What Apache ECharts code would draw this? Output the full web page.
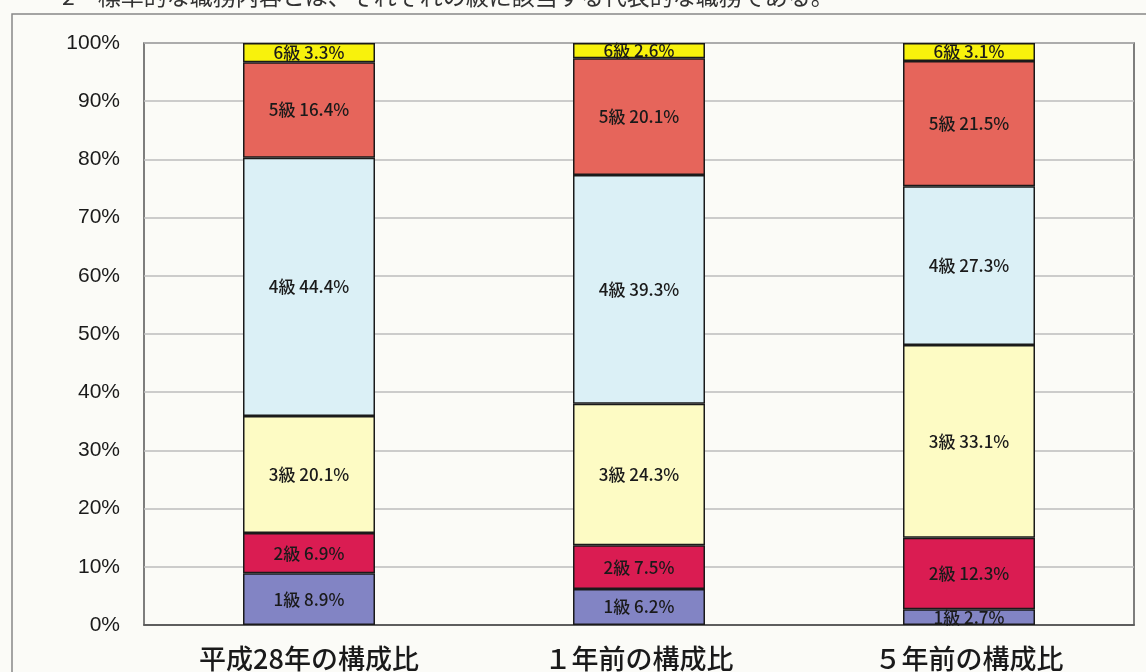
<!DOCTYPE html>
<html>
<head>
<meta charset="utf-8">
<style>
  html, body { margin: 0; padding: 0; background: #fbfbf7; }
  #chart { width: 1146px; height: 672px; }
</style>
<script src="https://cdn.jsdelivr.net/npm/echarts@6/dist/echarts.min.js"></script>
</head>
<body>
<div id="chart"></div>
<script>
const categories = ["平成28年の構成比", "１年前の構成比", "５年前の構成比"];
const grades = ["1級", "2級", "3級", "4級", "5級", "6級"];
const grade1 = [8.9, 6.2, 2.7];
const grade2 = [6.9, 7.5, 12.3];
const grade3 = [20.1, 24.3, 33.1];
const grade4 = [44.4, 39.3, 27.3];
const grade5 = [16.4, 20.1, 21.5];
const grade6 = [3.3, 2.6, 3.1];
const gradeValues = [grade1, grade2, grade3, grade4, grade5, grade6];
const yTicks = [0, 10, 20, 30, 40, 50, 60, 70, 80, 90, 100];

const colors = ["#8284c4", "#da1c52", "#fdfbc4", "#dbf0f6", "#e6655b", "#f8f20c"];

const chart = echarts.init(document.getElementById("chart"));

chart.setOption({
  backgroundColor: "#fbfbf7",
  animation: false,
  grid: {
    left: 144,
    right: 12,
    top: 43,
    bottom: 46,
    show: true,
    borderColor: "#555",
    borderWidth: 1.5,
    backgroundColor: "transparent",
  },
  // cut-off caption at the top of the scan, plus the outer frame
  graphic: [
    {
      type: "text",
      left: 62,
      top: -15,
      style: {
        text: "2　標準的な職務内容とは、それぞれの級に該当する代表的な職務である。",
        font: '23px "Noto Sans CJK JP"',
        fill: "#333",
      },
    },
    {
      type: "rect",
      shape: { x: 12, y: 14, width: 1150, height: 670 },
      style: { fill: "none", stroke: "#888", lineWidth: 1.5 },
      z: -1,
    },
  ],
  xAxis: {
    type: "category",
    data: categories,
    axisTick: { show: false },
    axisLine: { lineStyle: { color: "#444", width: 1.5 } },
    axisLabel: {
      margin: 20,
      fontSize: 27,
      fontWeight: 500,
      fontFamily: "Noto Sans CJK JP",
      color: "#1a1a1a",
    },
  },
  yAxis: {
    type: "value",
    min: yTicks[0],
    max: yTicks[yTicks.length - 1],
    interval: yTicks[1] - yTicks[0],
    axisLine: { show: false },
    axisTick: { show: false },
    axisLabel: {
      margin: 24,
      fontSize: 21,
      fontFamily: "Liberation Sans",
      color: "#1a1a1a",
      formatter: "{value}%",
    },
    splitLine: { lineStyle: { color: "#bdbdbd", width: 1.5 } },
  },
  series: grades.map((g, i) => ({
    name: g,
    type: "bar",
    stack: "total",
    barWidth: 132,
    data: gradeValues[i],
    itemStyle: {
      color: colors[i],
      borderColor: "#1a1a1a",
      borderWidth: 1.5,
    },
    label: {
      show: true,
      position: "inside",
      formatter: (p) => `${p.seriesName} ${p.value}%`,
      fontSize: 17,
      fontWeight: 500,
      fontFamily: "Noto Sans CJK JP",
      color: "#1a1a1a",
    },
  })),
});
</script>
</body>
</html>
